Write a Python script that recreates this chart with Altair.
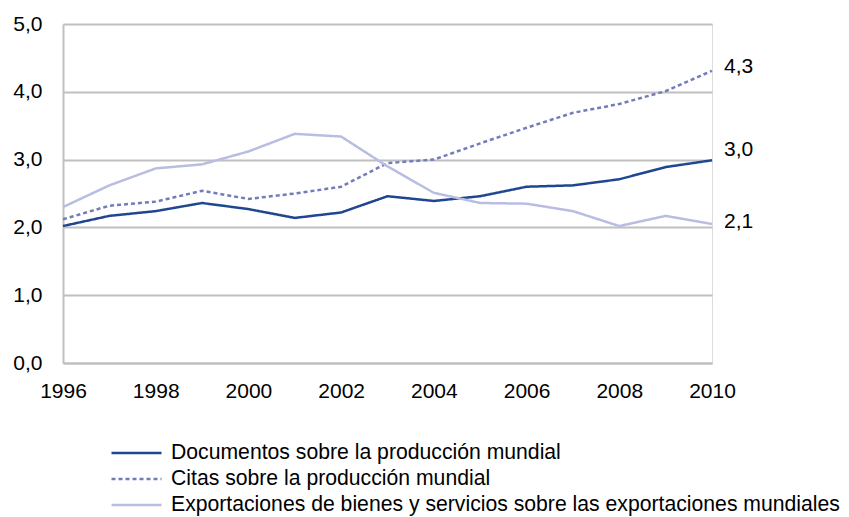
import altair as alt
import pandas as pd

years = list(range(1996, 2011))
documentos = [2.02, 2.17, 2.24, 2.36, 2.27, 2.14, 2.22, 2.46, 2.39, 2.46, 2.60, 2.62, 2.71, 2.89, 2.99]
citas = [2.12, 2.32, 2.38, 2.54, 2.42, 2.50, 2.60, 2.95, 3.00, 3.24, 3.47, 3.69, 3.82, 4.01, 4.31]
exportaciones = [2.30, 2.62, 2.87, 2.93, 3.12, 3.38, 3.34, 2.90, 2.51, 2.36, 2.35, 2.24, 2.02, 2.17, 2.05]

series_names = [
    "Documentos sobre la producción mundial",
    "Citas sobre la producción mundial",
    "Exportaciones de bienes y servicios sobre las exportaciones mundiales",
]
series_colors = ["#1f4690", "#737cba", "#b9bde2"]
series_dashes = [[1, 0], [4, 3], [1, 0]]

end_labels = ["4,3", "3,0", "2,1"]
end_values = [4.31, 2.99, 2.05]

rows = []
for name, vals in zip(series_names, [documentos, citas, exportaciones]):
    for y, v in zip(years, vals):
        rows.append({"year": y, "value": v, "serie": name})
df = pd.DataFrame(rows)

FONT = "Liberation Sans"
FS = 21

x_enc = alt.X(
    "year:Q",
    scale=alt.Scale(domain=[1996, 2010], nice=False, zero=False),
    axis=alt.Axis(
        values=list(range(1996, 2011, 2)),
        format="d",
        title=None,
        grid=False,
        ticks=False,
        labelFlush=False,
        labelBound=False,
        labelOverlap=False,
        labelPadding=17,
        labelFontSize=FS,
        labelFont=FONT,
        labelColor="#000000",
        domainColor="#c0c0c0",
        domainWidth=2,
    ),
)
y_enc = alt.Y(
    "value:Q",
    scale=alt.Scale(domain=[0, 5], nice=False),
    axis=alt.Axis(
        values=[0, 1, 2, 3, 4, 5],
        labelExpr="replace(format(datum.value, '.1f'), '.', ',')",
        title=None,
        ticks=False,
        labelFlush=False,
        labelOverlap=False,
        labelPadding=21,
        labelFontSize=FS,
        labelFont=FONT,
        labelColor="#000000",
        gridColor="#c0c0c0",
        gridWidth=2,
        domainColor="#c0c0c0",
        domainWidth=2,
    ),
)

leg = dict(
    title=None,
    orient="none",
    legendX=47,
    legendY=416,
    direction="vertical",
    symbolType="stroke",
    symbolSize=2500,
    symbolStrokeWidth=2.5,
    labelFontSize=21.2,
    labelFont=FONT,
    labelColor="#000000",
    labelLimit=900,
    clipHeight=26,
    rowPadding=0,
    labelOffset=8,
)

lines = alt.Chart(df).mark_line(strokeWidth=2.5).encode(
    x=x_enc,
    y=y_enc,
    color=alt.Color(
        "serie:N",
        scale=alt.Scale(domain=series_names, range=series_colors),
        legend=alt.Legend(**leg),
    ),
    strokeDash=alt.StrokeDash(
        "serie:N",
        scale=alt.Scale(domain=series_names, range=series_dashes),
        legend=alt.Legend(**leg),
    ),
    order="year:Q",
)

lab_df = pd.DataFrame({"year": [2010] * 3, "value": end_values, "txt": end_labels})
dys = [-4, -10, -2]
label_layers = []
for i in range(3):
    label_layers.append(
        alt.Chart(lab_df.iloc[[i]]).mark_text(
            align="left", baseline="middle", dx=12, dy=dys[i],
            fontSize=FS, font=FONT, color="#000000",
        ).encode(x="year:Q", y="value:Q", text="txt:N")
    )

chart = alt.layer(lines, *label_layers).properties(
    width=649,
    height=339,
    autosize=alt.AutoSizeParams(type="none"),
    padding={"left": 55, "top": 16, "right": 129, "bottom": 154},
).configure_view(
    stroke="#c0c0c0",
    strokeWidth=2,
).configure(background="#ffffff")

chart.save("out.html", embed_options={"renderer": "svg", "actions": False})
